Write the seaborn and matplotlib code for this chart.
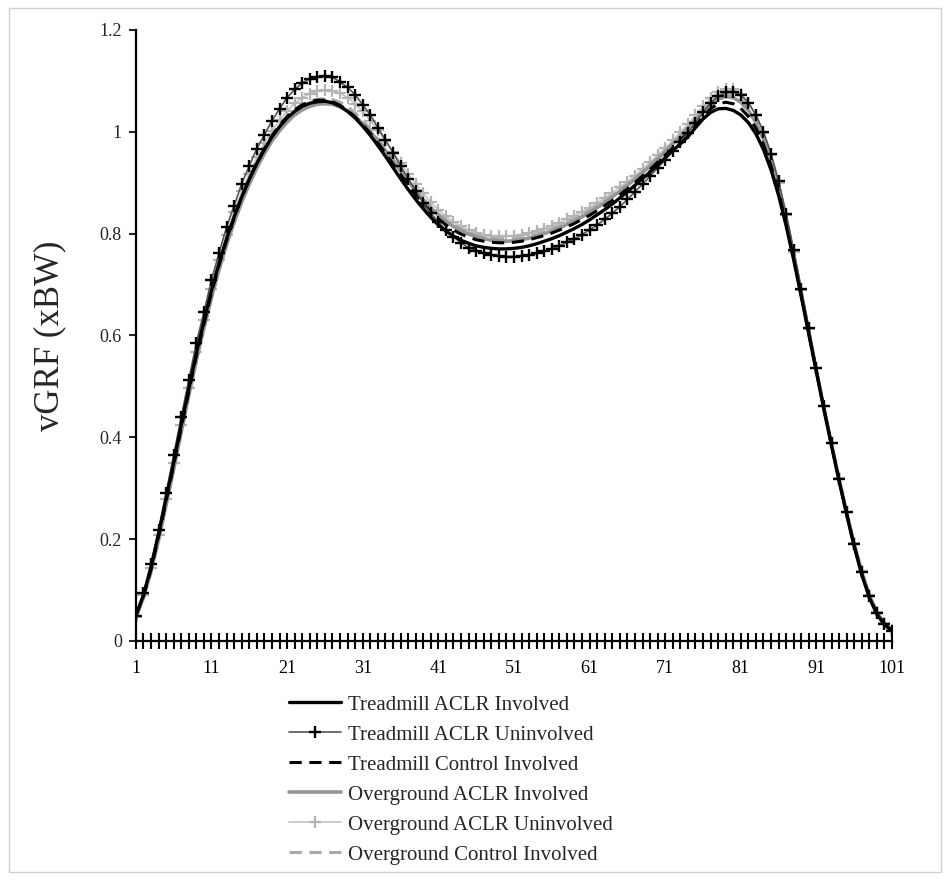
import matplotlib
matplotlib.use("Agg")
import matplotlib.pyplot as plt
import matplotlib.patches as mpatches
from matplotlib.ticker import FixedLocator
import seaborn as sns

sns.set_style("white")
plt.rcParams['font.family'] = ['Liberation Serif', 'DejaVu Serif']

# % stance, 1..101
stance = list(range(1, 102))
y_ticks = [0, 0.2, 0.4, 0.6, 0.8, 1.0, 1.2]
y_tick_labels = ['0', '0.2', '0.4', '0.6', '0.8', '1', '1.2']
x_tick_labels = [1, 11, 21, 31, 41, 51, 61, 71, 81, 91, 101]

treadmill_aclr_inv = [
    0.05, 0.09, 0.145, 0.21, 0.28, 0.35, 0.425, 0.495, 0.565, 0.628,
    0.688, 0.742, 0.79, 0.833, 0.872, 0.907, 0.938, 0.965, 0.99, 1.01,
    1.027, 1.04, 1.05, 1.056, 1.059, 1.06, 1.057, 1.05, 1.04, 1.027,
    1.011, 0.993, 0.973, 0.952, 0.93, 0.908, 0.887, 0.867, 0.849, 0.832,
    0.817, 0.805, 0.795, 0.787, 0.781, 0.776, 0.773, 0.771, 0.77, 0.77,
    0.771, 0.773, 0.776, 0.78, 0.785, 0.79, 0.796, 0.803, 0.81, 0.818,
    0.827, 0.837, 0.847, 0.858, 0.87, 0.882, 0.895, 0.908, 0.921, 0.935,
    0.949, 0.963, 0.976, 0.99, 1.008, 1.025, 1.038, 1.045, 1.046, 1.042,
    1.033, 1.018, 0.996, 0.965, 0.925, 0.875, 0.815, 0.748, 0.676, 0.602,
    0.528, 0.454, 0.383, 0.314, 0.248, 0.185, 0.13, 0.085, 0.052, 0.032,
    0.02]

treadmill_aclr_uninv = [
    0.05, 0.094, 0.151, 0.218, 0.291, 0.365, 0.44, 0.513, 0.585, 0.646,
    0.709, 0.762, 0.813, 0.855, 0.898, 0.933, 0.967, 0.994, 1.022, 1.045,
    1.067, 1.083, 1.096, 1.104, 1.108, 1.109, 1.107, 1.098, 1.087, 1.073,
    1.053, 1.033, 1.008, 0.984, 0.959, 0.933, 0.908, 0.884, 0.86, 0.84,
    0.823, 0.807, 0.794, 0.782, 0.772, 0.766, 0.761, 0.758, 0.756, 0.755,
    0.755, 0.756, 0.758, 0.761, 0.765, 0.77, 0.776, 0.783, 0.79, 0.798,
    0.807, 0.817, 0.828, 0.84, 0.853, 0.867, 0.882, 0.897, 0.913, 0.929,
    0.945, 0.962, 0.98, 0.998, 1.018, 1.038, 1.056, 1.07, 1.078, 1.079,
    1.072, 1.057, 1.033, 1.0, 0.957, 0.903, 0.839, 0.767, 0.691, 0.614,
    0.537, 0.461, 0.389, 0.319, 0.253, 0.19, 0.135, 0.089, 0.055, 0.033,
    0.02]

treadmill_control_inv = [
    0.05, 0.088, 0.14, 0.205, 0.275, 0.345, 0.418, 0.49, 0.56, 0.622,
    0.683, 0.738, 0.787, 0.831, 0.871, 0.907, 0.939, 0.967, 0.992, 1.013,
    1.03, 1.043, 1.053, 1.059, 1.062, 1.062, 1.059, 1.052, 1.042, 1.029,
    1.014, 0.997, 0.978, 0.958, 0.937, 0.916, 0.896, 0.877, 0.859, 0.843,
    0.829, 0.817, 0.807, 0.799, 0.793, 0.788, 0.785, 0.783, 0.782, 0.782,
    0.783, 0.785, 0.788, 0.792, 0.796, 0.801, 0.807, 0.813, 0.82, 0.828,
    0.836, 0.845, 0.855, 0.865, 0.876, 0.888, 0.9, 0.913, 0.926, 0.94,
    0.954, 0.968, 0.983, 0.998, 1.013, 1.03, 1.045, 1.055, 1.058, 1.055,
    1.046, 1.03, 1.007, 0.975, 0.933, 0.882, 0.82, 0.752, 0.679, 0.604,
    0.53, 0.456, 0.385, 0.316, 0.25, 0.187, 0.132, 0.087, 0.054, 0.033,
    0.02]

overground_aclr_inv = [
    0.045, 0.085, 0.136, 0.198, 0.267, 0.337, 0.41, 0.482, 0.551, 0.614,
    0.674, 0.729, 0.778, 0.822, 0.862, 0.897, 0.929, 0.957, 0.982, 1.002,
    1.019, 1.033, 1.043, 1.05, 1.054, 1.055, 1.054, 1.049, 1.041, 1.03,
    1.016, 1.0, 0.982, 0.963, 0.943, 0.923, 0.903, 0.884, 0.866, 0.85,
    0.836, 0.824, 0.814, 0.806, 0.799, 0.794, 0.79, 0.787, 0.786, 0.785,
    0.786, 0.788, 0.791, 0.795, 0.8, 0.805, 0.811, 0.818, 0.825, 0.833,
    0.842, 0.851, 0.861, 0.872, 0.883, 0.895, 0.907, 0.92, 0.933, 0.947,
    0.961, 0.976, 0.991, 1.007, 1.023, 1.039, 1.053, 1.064, 1.069, 1.067,
    1.058, 1.042, 1.018, 0.985, 0.942, 0.889, 0.826, 0.756, 0.682, 0.606,
    0.531, 0.457, 0.386, 0.317, 0.252, 0.19, 0.135, 0.09, 0.056, 0.034,
    0.021]

overground_aclr_uninv = [
    0.048, 0.09, 0.143, 0.208, 0.279, 0.35, 0.424, 0.497, 0.567, 0.631,
    0.692, 0.748, 0.798, 0.843, 0.883, 0.918, 0.95, 0.978, 1.002, 1.023,
    1.041, 1.056, 1.067, 1.075, 1.08, 1.082, 1.081, 1.076, 1.067, 1.055,
    1.04, 1.022, 1.003, 0.982, 0.961, 0.939, 0.918, 0.898, 0.879, 0.862,
    0.847, 0.834, 0.823, 0.814, 0.807, 0.802, 0.798, 0.796, 0.795, 0.795,
    0.796, 0.798, 0.801, 0.805, 0.81, 0.815, 0.821, 0.828, 0.835, 0.843,
    0.851, 0.86, 0.87, 0.88, 0.891, 0.902, 0.914, 0.927, 0.94, 0.954,
    0.968, 0.983, 0.999, 1.015, 1.032, 1.05, 1.066, 1.078, 1.084, 1.083,
    1.074, 1.057, 1.032, 0.998, 0.954, 0.9, 0.836, 0.764, 0.689, 0.612,
    0.536, 0.461, 0.389, 0.32, 0.254, 0.192, 0.137, 0.091, 0.057, 0.035,
    0.022]

overground_control_inv = [
    0.047, 0.087, 0.139, 0.202, 0.271, 0.341, 0.414, 0.486, 0.556, 0.619,
    0.679, 0.735, 0.785, 0.83, 0.87, 0.906, 0.938, 0.966, 0.991, 1.012,
    1.029, 1.043, 1.053, 1.06, 1.064, 1.065, 1.063, 1.058, 1.049, 1.037,
    1.022, 1.005, 0.986, 0.966, 0.946, 0.925, 0.905, 0.886, 0.869, 0.853,
    0.839, 0.827, 0.817, 0.809, 0.802, 0.797, 0.793, 0.791, 0.79, 0.79,
    0.791, 0.793, 0.796, 0.8, 0.805, 0.81, 0.816, 0.823, 0.83, 0.838,
    0.847, 0.856, 0.866, 0.876, 0.887, 0.899, 0.911, 0.924, 0.937, 0.951,
    0.965, 0.979, 0.994, 1.01, 1.026, 1.042, 1.056, 1.067, 1.073, 1.072,
    1.064, 1.048, 1.024, 0.991, 0.948, 0.895, 0.831, 0.76, 0.685, 0.609,
    0.533, 0.459, 0.387, 0.318, 0.253, 0.191, 0.136, 0.09, 0.056, 0.034,
    0.021]

fig = plt.figure(figsize=(9.5, 8.8), dpi=100)
ax = fig.add_axes([0.143, 0.2716, 0.796, 0.6944])

# drawn back to front, legend order fixed below
sns.lineplot(x=stance, y=overground_control_inv, ax=ax, color='#a8a8a8',
             linewidth=2.2, linestyle=(0, (4, 2.5)), label='Overground Control Involved')
sns.lineplot(x=stance, y=overground_aclr_uninv, ax=ax, color='#c4c4c4',
             linewidth=1.2, marker='+', markersize=9, markeredgewidth=1.6,
             markeredgecolor='#b4b4b4', label='Overground ACLR Uninvolved')
sns.lineplot(x=stance, y=overground_aclr_inv, ax=ax, color='#959595',
             linewidth=2.6, label='Overground ACLR Involved')
sns.lineplot(x=stance, y=treadmill_control_inv, ax=ax, color='black',
             linewidth=2.2, linestyle=(0, (4, 2.5)), label='Treadmill Control Involved')
sns.lineplot(x=stance, y=treadmill_aclr_uninv, ax=ax, color='#555555',
             linewidth=1.2, marker='+', markersize=9, markeredgewidth=1.7,
             markeredgecolor='black', label='Treadmill ACLR Uninvolved')
sns.lineplot(x=stance, y=treadmill_aclr_inv, ax=ax, color='black',
             linewidth=2.4, label='Treadmill ACLR Involved')

ax.set_xlim(1, 101)
ax.set_ylim(0, 1.2)
ax.yaxis.set_major_locator(FixedLocator(y_ticks))
ax.set_yticklabels(y_tick_labels)
ax.xaxis.set_major_locator(FixedLocator(x_tick_labels))
ax.set_xticklabels([str(v) for v in x_tick_labels])
ax.xaxis.set_minor_locator(FixedLocator(stance))
ax.tick_params(axis='x', which='both', bottom=True, direction='inout', length=11,
               width=1.5, colors='black', labelsize=13, pad=8)
ax.tick_params(axis='y', left=True, direction='out', length=5, width=1.5,
               labelsize=13, pad=5)
for s in ['top', 'right']:
    ax.spines[s].set_visible(False)
for s in ['left', 'bottom']:
    ax.spines[s].set_linewidth(1.6)
    ax.spines[s].set_color('black')
ax.set_xlabel('')
ax.set_ylabel('vGRF (xBW)', fontsize=25, labelpad=24)

handles, labels = ax.get_legend_handles_labels()
order = ['Treadmill ACLR Involved', 'Treadmill ACLR Uninvolved', 'Treadmill Control Involved',
         'Overground ACLR Involved', 'Overground ACLR Uninvolved', 'Overground Control Involved']
hmap = dict(zip(labels, handles))
ax.get_legend().remove()
fig.legend([hmap[k] for k in order], order, loc='upper left',
           bbox_to_anchor=(0.293, 0.222), frameon=False, fontsize=15,
           handlelength=2.5, handletextpad=0.35, labelspacing=0.5, borderpad=0)

fig.patches.append(mpatches.Rectangle((9 / 950, 8 / 880), 932 / 950, 864 / 880,
                                      transform=fig.transFigure, fill=False,
                                      edgecolor='#d0d0d0', linewidth=1))

fig.savefig('out.png', dpi=100)
